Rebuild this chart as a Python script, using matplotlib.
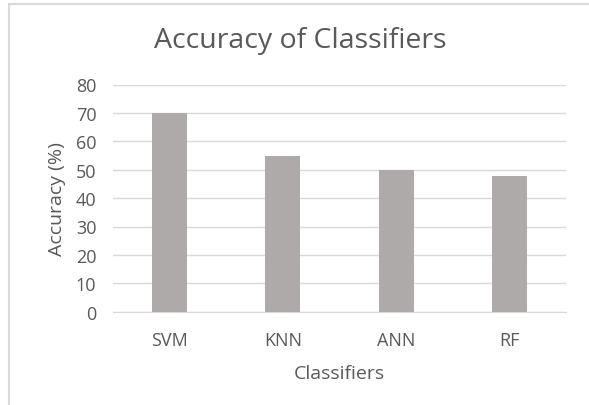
import matplotlib
matplotlib.use("Agg")
import matplotlib.pyplot as plt
from matplotlib.patches import Rectangle

categories = ["SVM", "KNN", "ANN", "RF"]
accuracy = [70, 55, 50, 47.7]
yticks = [0, 10, 20, 30, 40, 50, 60, 70, 80]

W, H = 589, 406
fig = plt.figure(figsize=(W / 100, H / 100), dpi=100)
plt.rcParams['font.family'] = ['Open Sans', 'DejaVu Sans']
txt = '#595959'

# outer chart border
fig.patches.append(Rectangle((9 / W, -0.05), 1.2, 1 - 5 / H + 0.05, transform=fig.transFigure,
                             fill=False, edgecolor='#d9d9d9', linewidth=1.5))

ax = fig.add_axes([113 / W, 1 - 312.7 / H, (566 - 113) / W, (312.7 - 85.5) / H])
x = list(range(len(categories)))
ax.bar(x, accuracy, width=0.31, color='#aeaaaa', zorder=3)
ax.set_xlim(-0.5, len(categories) - 0.5)
ax.set_ylim(0, 80)
ax.set_yticks(yticks)
ax.set_yticklabels([str(v) for v in yticks])
ax.set_xticks(x)
ax.set_xticklabels(categories)
ax.grid(axis='y', color='#d9d9d9', linewidth=1, zorder=0)
for s in ['top', 'right', 'left']:
    ax.spines[s].set_visible(False)
ax.spines['bottom'].set_color('#d9d9d9')
ax.tick_params(axis='both', length=0, colors=txt, labelsize=13)
ax.tick_params(axis='y', pad=12)
ax.tick_params(axis='x', pad=14)
ax.set_xlabel('Classifiers', color=txt, fontsize=14, labelpad=11)
ax.set_ylabel('Accuracy (%)', color=txt, fontsize=14, labelpad=7)
fig.text(300 / W, 1 - 41 / H, 'Accuracy of Classifiers', ha='center', va='center',
         color=txt, fontsize=20.5)

fig.savefig('out.png', dpi=100)
